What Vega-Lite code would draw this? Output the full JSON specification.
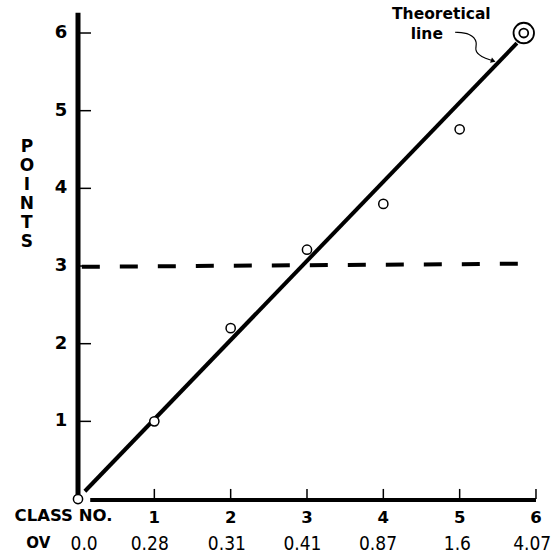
{
  "$schema": "https://vega.github.io/schema/vega-lite/v6.json",
  "width": 554,
  "height": 560,
  "padding": 0,
  "autosize": {"type": "none"},
  "background": "white",
  "config": {"view": {"stroke": null}},
  "encoding": {
    "x": {"field": "x", "type": "quantitative", "scale": {"domain": [-1.022, 6.236], "nice": false, "zero": false}, "axis": null},
    "y": {"field": "y", "type": "quantitative", "scale": {"domain": [-0.785, 6.425], "nice": false, "zero": false}, "axis": null}
  },
  "layer": [
    {
      "data": {"values": [{"x": 0, "y": 0.05, "y2": 6.26}]},
      "mark": {"type": "rule", "strokeWidth": 5, "color": "black"},
      "encoding": {"y2": {"field": "y2"}}
    },
    {
      "data": {"values": [{"x": 0.16, "x2": 6.0, "y": -0.013}]},
      "mark": {"type": "rule", "strokeWidth": 4, "color": "black"},
      "encoding": {"x2": {"field": "x2"}}
    },
    {
      "data": {"values": [
        {"x": 0, "x2": 0.17, "y": 1}, {"x": 0, "x2": 0.17, "y": 2}, {"x": 0, "x2": 0.17, "y": 3},
        {"x": 0, "x2": 0.17, "y": 4}, {"x": 0, "x2": 0.17, "y": 5}, {"x": 0, "x2": 0.17, "y": 6}
      ]},
      "mark": {"type": "rule", "strokeWidth": 1.5, "color": "black"},
      "encoding": {"x2": {"field": "x2"}}
    },
    {
      "data": {"values": [
        {"x": 1, "y": 0, "y2": 0.13}, {"x": 2, "y": 0, "y2": 0.13}, {"x": 3, "y": 0, "y2": 0.13},
        {"x": 4, "y": 0, "y2": 0.13}, {"x": 5, "y": 0, "y2": 0.13}, {"x": 6, "y": 0, "y2": 0.13}
      ]},
      "mark": {"type": "rule", "strokeWidth": 1.5, "color": "black"},
      "encoding": {"y2": {"field": "y2"}}
    },
    {
      "data": {"values": [
        {"x": -0.14, "y": 1, "t": "1"}, {"x": -0.14, "y": 2, "t": "2"}, {"x": -0.14, "y": 3, "t": "3"},
        {"x": -0.14, "y": 4, "t": "4"}, {"x": -0.14, "y": 5, "t": "5"}, {"x": -0.14, "y": 6, "t": "6"}
      ]},
      "mark": {"type": "text", "align": "right", "baseline": "middle", "font": "DejaVu Sans", "fontWeight": "bold", "fontSize": 18, "color": "black"},
      "encoding": {"text": {"field": "t"}}
    },
    {
      "data": {"values": [
        {"x": 1, "y": -0.245, "t": "1"}, {"x": 2, "y": -0.245, "t": "2"}, {"x": 3, "y": -0.245, "t": "3"},
        {"x": 4, "y": -0.245, "t": "4"}, {"x": 5, "y": -0.245, "t": "5"}, {"x": 6, "y": -0.245, "t": "6"},
        {"x": -0.19, "y": -0.22, "t": "CLASS NO."}
      ]},
      "mark": {"type": "text", "align": "center", "baseline": "middle", "font": "DejaVu Sans", "fontWeight": "bold", "fontSize": 16.5, "color": "black"},
      "encoding": {"text": {"field": "t"}}
    },
    {
      "data": {"values": [
        {"x": 0.08, "y": -0.58, "t": "0.0"}, {"x": 0.94, "y": -0.58, "t": "0.28"}, {"x": 1.95, "y": -0.58, "t": "0.31"},
        {"x": 2.94, "y": -0.58, "t": "0.41"}, {"x": 3.93, "y": -0.58, "t": "0.87"}, {"x": 4.97, "y": -0.58, "t": "1.6"},
        {"x": 5.95, "y": -0.58, "t": "4.07"}
      ]},
      "mark": {"type": "text", "align": "center", "baseline": "middle", "font": "DejaVu Sans Condensed", "fontSize": 19, "color": "black"},
      "encoding": {"text": {"field": "t"}}
    },
    {
      "data": {"values": [{"x": -0.52, "y": -0.56, "t": "OV"}]},
      "mark": {"type": "text", "align": "center", "baseline": "middle", "font": "DejaVu Sans", "fontWeight": "bold", "fontSize": 15, "color": "black"},
      "encoding": {"text": {"field": "t"}}
    },
    {
      "data": {"values": [{"x": -0.67, "y": 4.53}]},
      "mark": {"type": "text", "text": ["P", "O", "I", "N", "T", "S"], "lineHeight": 19, "align": "center", "baseline": "middle", "font": "DejaVu Sans", "fontWeight": "bold", "fontSize": 17, "color": "black"}
    },
    {
      "data": {"values": [{"x": 0.05, "y": 2.99}, {"x": 5.85, "y": 3.03}]},
      "mark": {"type": "line", "strokeWidth": 4, "strokeDash": [18, 20], "color": "black"}
    },
    {
      "data": {"values": [{"x": 0.09, "y": 0.1}, {"x": 5.75, "y": 5.87}]},
      "mark": {"type": "line", "strokeWidth": 4, "color": "black"}
    },
    {
      "data": {"values": [
        {"x": 0, "y": 0}, {"x": 1, "y": 1}, {"x": 2, "y": 2.2}, {"x": 3, "y": 3.21}, {"x": 4, "y": 3.8}, {"x": 5, "y": 4.76}
      ]},
      "mark": {"type": "point", "shape": "circle", "size": 85, "filled": false, "fill": "white", "fillOpacity": 1, "stroke": "black", "strokeWidth": 1.5, "opacity": 1}
    },
    {
      "data": {"values": [{"x": 5.84, "y": 6.0}]},
      "mark": {"type": "point", "shape": "circle", "size": 420, "filled": false, "fill": "white", "fillOpacity": 1, "stroke": "black", "strokeWidth": 1.8, "opacity": 1}
    },
    {
      "data": {"values": [{"x": 5.84, "y": 6.0}]},
      "mark": {"type": "point", "shape": "circle", "size": 80, "filled": false, "stroke": "black", "strokeWidth": 1.8, "opacity": 1}
    },
    {
      "data": {"values": [
        {"i": 0, "x": 4.94, "y": 6.01}, {"i": 1, "x": 5.14, "y": 6.0}, {"i": 2, "x": 5.24, "y": 5.88},
        {"i": 3, "x": 5.19, "y": 5.78}, {"i": 4, "x": 5.28, "y": 5.69}, {"i": 5, "x": 5.43, "y": 5.645}
      ]},
      "mark": {"type": "line", "interpolate": "basis", "strokeWidth": 1.2, "color": "black"},
      "encoding": {"order": {"field": "i", "type": "quantitative"}}
    },
    {
      "data": {"values": [{"x": 5.44, "y": 5.64}]},
      "mark": {"type": "point", "shape": "triangle-up", "angle": 110, "size": 30, "filled": true, "color": "black", "opacity": 1}
    },
    {
      "data": {"values": [{"x": 4.76, "y": 6.24, "t": "Theoretical"}, {"x": 4.57, "y": 5.99, "t": "line"}]},
      "mark": {"type": "text", "align": "center", "baseline": "middle", "font": "DejaVu Sans", "fontWeight": "bold", "fontSize": 15.5, "color": "black"},
      "encoding": {"text": {"field": "t"}}
    }
  ]
}
